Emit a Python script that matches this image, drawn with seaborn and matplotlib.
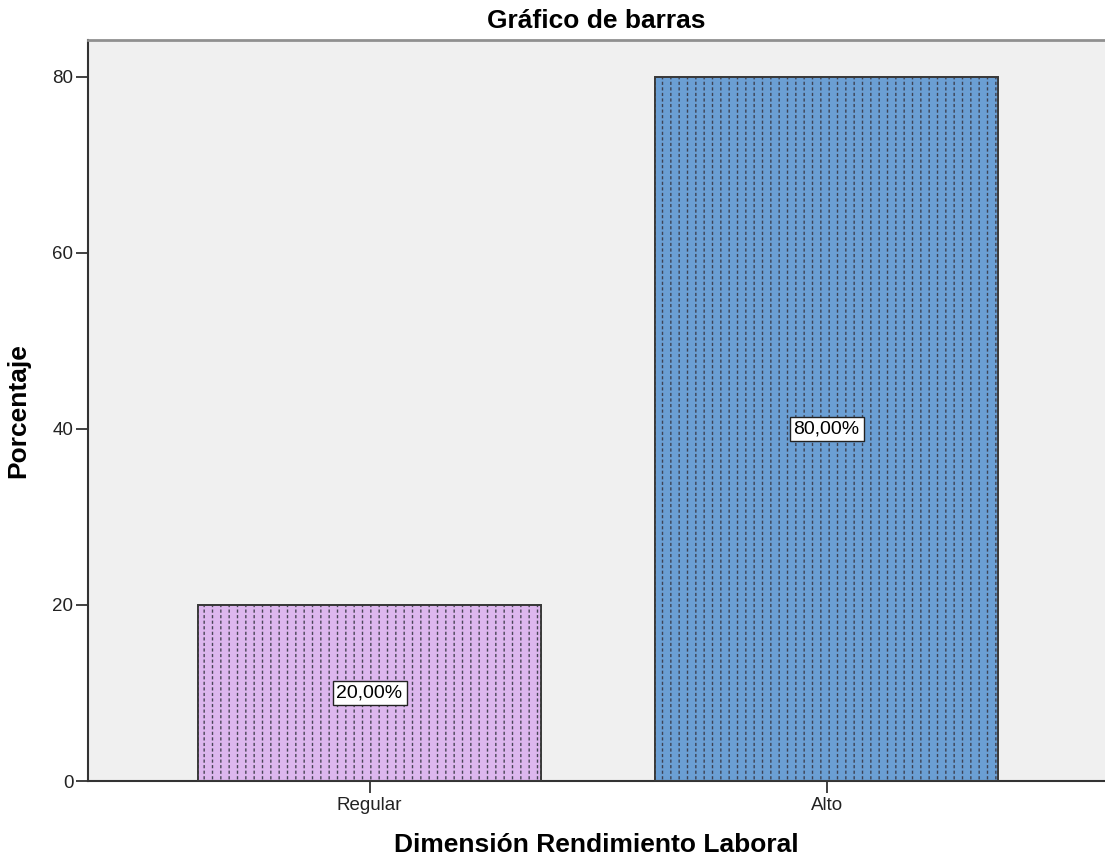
import matplotlib
matplotlib.use("Agg")
import matplotlib.pyplot as plt
import seaborn as sns
import pandas as pd
from matplotlib.patches import Rectangle

categories = ["Regular", "Alto"]
percentages = [20.0, 80.0]
value_labels = ["20,00%", "80,00%"]
bar_colors = ["#DDB7EE", "#6B9FD4"]
y_ticks = [0, 20, 40, 60, 80]

sns.set_theme(style="white")
plt.rcParams["font.family"] = ["Liberation Sans", "DejaVu Sans"]

df = pd.DataFrame({"cat": categories, "pct": percentages})

fig = plt.figure(figsize=(11.05, 8.64), dpi=100)
ax = fig.add_axes([88 / 1105, 1 - 781 / 864, 1 - 88 / 1105, (781 - 40) / 864])
ax.set_facecolor("#F0F0F0")

sns.barplot(data=df, x="cat", y="pct", hue="cat", palette=bar_colors,
            saturation=1, width=0.75, edgecolor="#3A3A3A", linewidth=1.3,
            legend=False, ax=ax, zorder=2)


def hatch_rect(p, hatch, color, lw, z):
    plt.rcParams["hatch.linewidth"] = lw
    r = Rectangle(p.get_xy(), p.get_width(), p.get_height(),
                  facecolor="none", edgecolor=color, linewidth=0,
                  hatch=hatch, zorder=z)
    if hasattr(r, "set_hatch_linewidth"):
        r.set_hatch_linewidth(lw)
    ax.add_patch(r)


# dashed vertical hatch: vertical lines broken by horizontal lines in fill colour
for p, col in zip(list(ax.patches), bar_colors):
    hatch_rect(p, "||", (0.22, 0.22, 0.27, 0.9), 1.0, 2.4)
    hatch_rect(p, "---", col, 1.7, 2.5)
    ax.add_patch(Rectangle(p.get_xy(), p.get_width(), p.get_height(),
                           facecolor="none", edgecolor="#3A3A3A",
                           linewidth=1.3, zorder=3))

for i, (v, lab) in enumerate(zip(percentages, value_labels)):
    ax.text(i, v / 2, lab, ha="center", va="center", fontsize=14,
            color="black", zorder=5,
            bbox=dict(boxstyle="square,pad=0.2", facecolor="white",
                      edgecolor="#222222", linewidth=1.0))

ax.set_xlim(-0.616, 1.609)
ax.set_ylim(0, 84.2)
ax.set_yticks(y_ticks)
ax.set_yticklabels([str(t) for t in y_ticks])

ax.tick_params(axis="both", which="both", direction="out", length=8.5,
               width=1.3, color="#333333", labelsize=13.5, labelcolor="#222222",
               left=True, bottom=True)
ax.tick_params(axis="y", pad=2)
ax.tick_params(axis="x", pad=3)

for s in ["left", "bottom"]:
    ax.spines[s].set_color("#333333")
    ax.spines[s].set_linewidth(1.5)
ax.spines["top"].set_color("#909090")
ax.spines["top"].set_linewidth(2)
ax.spines["right"].set_visible(False)

ax.set_xlabel("Dimensión Rendimiento Laboral", fontsize=19, fontweight="bold",
              color="black", labelpad=14)
ax.set_ylabel("Porcentaje", fontsize=19, fontweight="bold", color="black",
              labelpad=16)
ax.set_title("Gráfico de barras", fontsize=19, fontweight="bold",
             color="black", pad=9)

fig.savefig("out.png", dpi=100, facecolor="white")
